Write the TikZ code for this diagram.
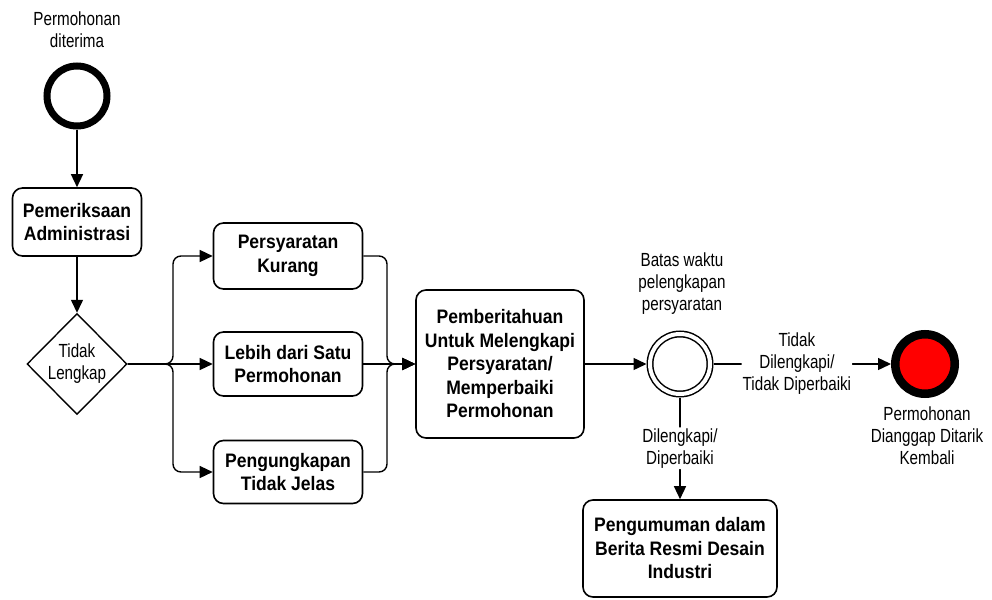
\documentclass[tikz,border=0pt]{standalone}
\usepackage{fontspec}
\setmainfont{Liberation Sans}[FakeStretch=0.8]
\newfontfamily\taskfont{Liberation Sans}[FakeStretch=0.9]
\usetikzlibrary{positioning, shapes.geometric, arrows.meta}
\tikzset{
	task/.style={draw, rounded corners=10pt, line width=1.6pt, align=center, inner sep=2pt,
		font=\taskfont\bfseries\fontsize{19.5}{23.5}\selectfont}
}
\tikzset{
	evlabel/.style={align=center, inner sep=1pt, font=\fontsize{19}{22}\selectfont}
}
\tikzset{
	flow/.style={line width=1.4pt, rounded corners=8pt, -{Triangle[length=13pt,width=12pt]}}
}

\begin{document}
\begin{tikzpicture}[x=1pt, y=-1pt]
  \useasboundingbox (0,0) rectangle (992,599);
  \node[circle, draw, line width=7pt, minimum size=60pt, inner sep=0pt] (start) at (77,96) {};
  \node[evlabel] (startlbl) at (77,30) {Permohonan\\diterima};
  \node[task, minimum width=129pt, minimum height=68pt] (admin) at (77,222) {Pemeriksaan\\Administrasi};
  \node[diamond, draw, line width=1.4pt, minimum width=100pt, minimum height=101pt, evlabel, inner sep=0pt] (gate) at (77,364) {Tidak\\Lengkap};
  \coordinate (split) at (173,364);
  \coordinate (merge) at (387,364);
  \node[task, minimum width=149pt, minimum height=66pt] (kurang) at (288,256) {Persyaratan\\Kurang};
  \node[task, minimum width=149pt, minimum height=64pt] (lebih) at (288,364) {Lebih dari Satu\\Permohonan};
  \node[task, minimum width=149pt, minimum height=63pt] (jelas) at (288,472) {Pengungkapan\\Tidak Jelas};
  \node[task, minimum width=168pt, minimum height=148pt] (notif) at (500,364) {Pemberitahuan\\Untuk Melengkapi\\Persyaratan/\\Memperbaiki\\Permohonan};
  \node[circle, draw, double, double distance=4pt, line width=1.5pt, minimum size=60pt, inner sep=0pt, outer sep=3.5pt] (timer) at (680,364) {};
  \node[evlabel] (timerlbl) at (682,284) {Batas waktu\\pelengkapan\\persyaratan};
  \node[circle, draw, fill=red, line width=8.5pt, minimum size=59.5pt, inner sep=0pt] (finish) at (925,364) {};
  \node[evlabel] (finishlbl) at (927,436) {Permohonan\\Dianggap Ditarik\\Kembali};
  \node[task, minimum width=194pt, minimum height=97pt] (umum) at (680,548.5) {Pengumuman dalam\\Berita Resmi Desain\\Industri};

  \draw[flow] (start) -- (admin);
  \draw[flow] (admin) -- (gate);
  \draw[flow] (gate.east) -- (split) |- (kurang);
  \draw[flow] (gate.east) -- (lebih);
  \draw[flow] (gate.east) -- (split) |- (jelas);
  \draw[flow] (kurang) -| (merge) -- (notif);
  \draw[flow] (lebih) -- (notif);
  \draw[flow] (jelas) -| (merge) -- (notif);
  \draw[flow] (notif) -- (timer);
  \draw[flow] (timer) -- node[evlabel, fill=white, pos=0.47] {Tidak\\Dilengkapi/\\Tidak Diperbaiki} (finish);
  \draw[flow] (timer) -- node[evlabel, fill=white] {Dilengkapi/\\Diperbaiki} (umum);
\end{tikzpicture}
\end{document}
